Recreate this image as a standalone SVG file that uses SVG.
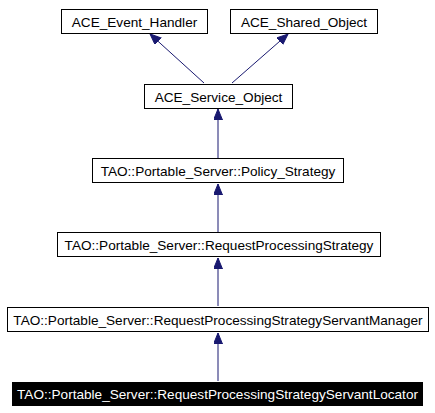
<svg xmlns="http://www.w3.org/2000/svg" width="435" height="413" viewBox="0 0 435 413">
<style>
.box{fill:#fff;stroke:#000;stroke-width:1}
.cur{fill:#000;stroke:#000;stroke-width:1}
text{font-family:"Liberation Sans",Arial,sans-serif;font-size:13.6px;text-anchor:middle;fill:#000}
.cur-t{fill:#fff}
.edge{stroke:#191970;stroke-width:1;fill:none;marker-end:url(#arr)}
</style>
<defs>
<marker id="arr" markerUnits="userSpaceOnUse" markerWidth="12" markerHeight="10" refX="11" refY="4.5" orient="auto">
<path d="M0,0 L11,4.5 L0,9 z" fill="#191970" stroke="#191970" stroke-width="1"/>
</marker>
</defs>
<rect width="435" height="413" fill="#fff"/>
<g id="connectors">
<path class="edge" d="M204,83 L150,34"/>
<path class="edge" d="M232,83 L288,34"/>
<path class="edge" d="M218,158 L218,109"/>
<path class="edge" d="M218,232 L218,184"/>
<path class="edge" d="M218,306 L218,258"/>
<path class="edge" d="M218,381 L218,333"/>
</g>
<g id="ACE_Event_Handler">
<rect class="box" x="61.5" y="9.5" width="146" height="24"/>
<text x="134.5" y="26.5">ACE_Event_Handler</text>
</g>
<g id="ACE_Shared_Object">
<rect class="box" x="230.5" y="9.5" width="147" height="24"/>
<text x="304" y="26.5">ACE_Shared_Object</text>
</g>
<g id="ACE_Service_Object">
<rect class="box" x="144.5" y="84.5" width="148" height="24"/>
<text x="218.5" y="101.5">ACE_Service_Object</text>
</g>
<g id="Policy_Strategy">
<rect class="box" x="92.5" y="158.5" width="251" height="24"/>
<text x="218" y="175.5">TAO::Portable_Server::Policy_Strategy</text>
</g>
<g id="RequestProcessingStrategy">
<rect class="box" x="57.5" y="232.5" width="323" height="24"/>
<text x="219" y="249.5">TAO::Portable_Server::RequestProcessingStrategy</text>
</g>
<g id="RequestProcessingStrategyServantManager">
<rect class="box" x="7.5" y="307.5" width="421" height="24"/>
<text x="218" y="324.5">TAO::Portable_Server::RequestProcessingStrategyServantManager</text>
</g>
<g id="RequestProcessingStrategyServantLocator">
<rect class="cur" x="12.5" y="382.5" width="410" height="23"/>
<text class="cur-t" x="217.5" y="399">TAO::Portable_Server::RequestProcessingStrategyServantLocator</text>
</g>
</svg>
